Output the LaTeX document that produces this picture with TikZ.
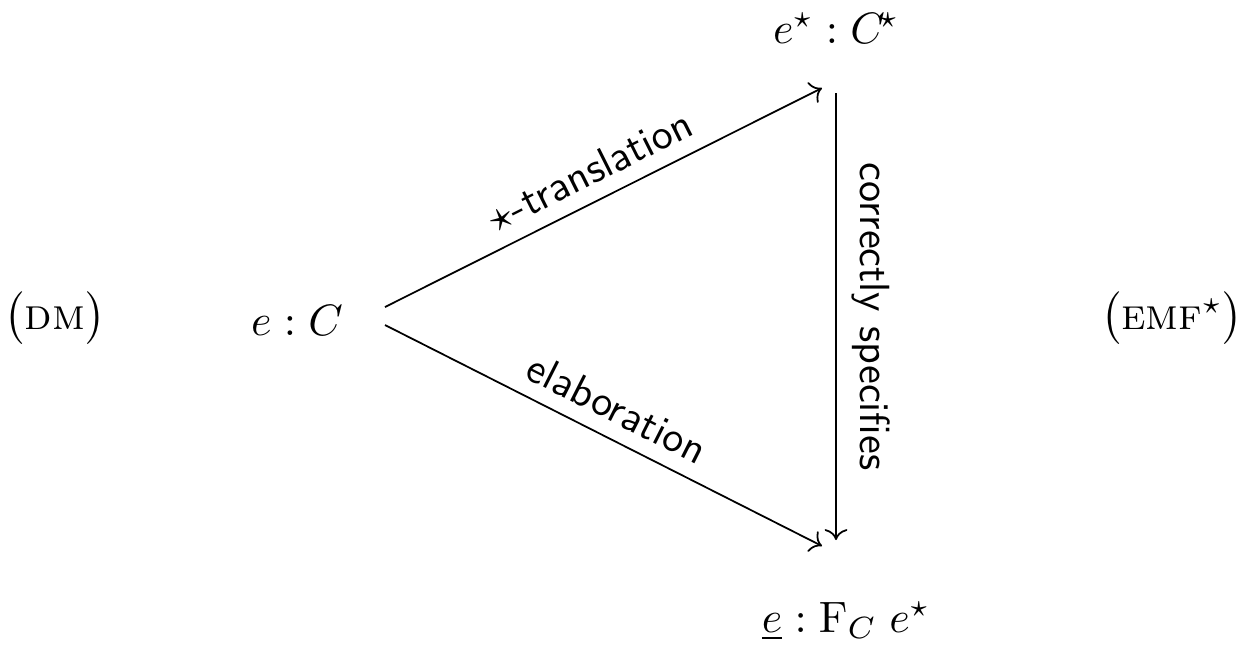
\documentclass[tikz,border=0pt]{standalone}
\usepackage{amsmath,amssymb}
\usepackage{tikz}
\usetikzlibrary{arrows.meta}

\begin{document}
\begin{tikzpicture}[arr/.style={->},lab/.style={font=\sffamily\fontsize{9.6}{11}\selectfont,midway,sloped,above}]
  \useasboundingbox (0,0) rectangle (9.96,-5.216);
  %% objects
  \node[anchor=base] (eC)    at (2.376,-2.68)  {$e : C$};
  \node[anchor=base] (estar) at (6.688,-0.344) {$e^\star : C^{\mkern-3mu\star}$};
  \node[anchor=base] (ebar)  at (6.768,-5.056) {$\underline{e} : \mathrm{F}_C\; e^\star$};
  %% tags
  \node[anchor=base] (dm)  at (0.44,-2.632)  {$\bigl($\textsc{dm}$\bigr)$};
  \node[anchor=base] (emf) at (9.376,-2.632) {$\bigl($\textsc{emf}$^\star\bigr)$};
  % translation
  \draw[arr] ([shift={(0.704,0.224)}]eC.base) -- ([shift={(-0.112,-0.36)}]estar.base)
    node[lab] {$\star$-translation};
  % elaboration
  \draw[arr] ([shift={(0.704,0.08)}]eC.base) -- ([shift={(-0.192,0.688)}]ebar.base)
    node[lab] {elaboration};
  % specification
  \draw[arr] ([yshift=-0.4cm]estar.base) -- ([shift={(-0.08,0.736)}]ebar.base)
    node[lab] {correctly specifies};
\end{tikzpicture}
\end{document}
